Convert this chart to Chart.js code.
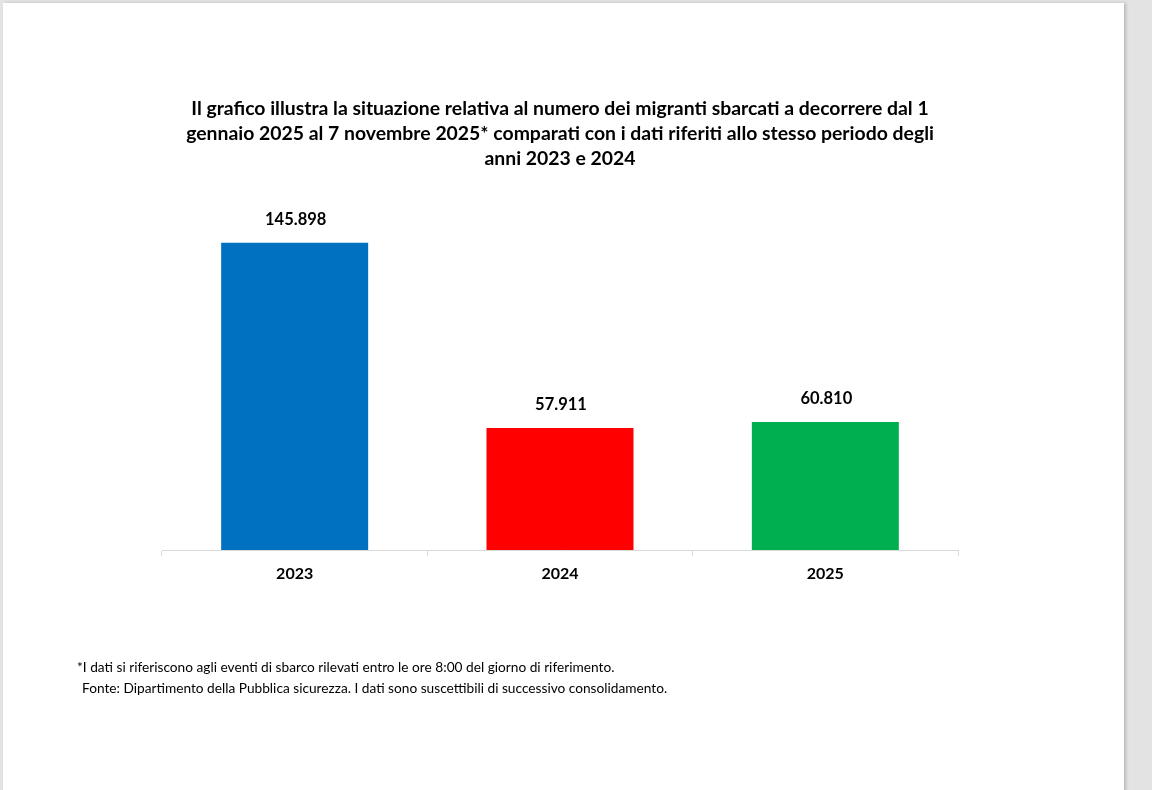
<!DOCTYPE html>
<html>
<head>
<meta charset="utf-8">
<script src="https://cdn.jsdelivr.net/npm/chart.js@4"></script>
<style>
  html, body { margin: 0; padding: 0; }
  body { width: 1152px; height: 790px; background: #e3e3e3; position: relative; overflow: hidden; font-family: Lato, "Open Sans", sans-serif; }
  .page { position: absolute; left: 3px; top: 3px; width: 1121px; height: 800px; background: #fff; box-shadow: 2px 0 3px rgba(0,0,0,0.18); }
  .chart-box { position: absolute; left: 0; top: 0; width: 1121px; height: 787px; }
  .note { position: absolute; font-size: 13.7px; line-height: 16px; color: #000; white-space: nowrap; }
</style>
</head>
<body>
<div class="page">
  <div class="chart-box"><canvas id="sbarchiChart"></canvas></div>
  <div class="note" style="left:74px; top:656px;">*I dati si riferiscono agli eventi di sbarco rilevati entro le ore 8:00 del giorno di riferimento.</div>
  <div class="note" style="left:79px; top:677px;">Fonte: Dipartimento della Pubblica sicurezza. I dati sono suscettibili di successivo consolidamento.</div>
</div>
<script>
const anni = ['2023', '2024', '2025'];
const migrantiSbarcati = [145898, 57911, 60810];
const coloriBarre = ['#0070C0', '#FF0000', '#00B050'];
const titolo = [
    'Il grafico illustra la situazione relativa al numero dei migranti sbarcati a decorrere dal 1',
    'gennaio 2025 al 7 novembre 2025* comparati con i dati riferiti allo stesso periodo degli',
    'anni 2023 e 2024'
];

function formatIt(n) {
    return String(n).replace(/\B(?=(\d{3})+(?!\d))/g, '.');
}

// value labels above each bar
const valueLabels = {
    id: 'valueLabels',
    afterDatasetsDraw(chart) {
        const ctx = chart.ctx;
        const meta = chart.getDatasetMeta(0);
        ctx.save();
        ctx.font = 'bold 16.5px Lato, "Open Sans", sans-serif';
        ctx.fillStyle = '#000';
        ctx.textAlign = 'center';
        ctx.textBaseline = 'middle';
        meta.data.forEach(function(bar, i) {
            ctx.fillText(formatIt(migrantiSbarcati[i]), bar.x + 1, bar.y - 23);
        });
        ctx.restore();
    }
};

document.addEventListener('DOMContentLoaded', function() {
    const ctx = document.getElementById('sbarchiChart').getContext('2d');
    new Chart(ctx, {
        type: 'bar',
        data: {
            labels: anni,
            datasets: [{
                data: migrantiSbarcati,
                backgroundColor: coloriBarre,
                borderWidth: 0,
                barPercentage: 0.554,
                categoryPercentage: 1
            }]
        },
        options: {
            responsive: true,
            maintainAspectRatio: false,
            animation: false,
            layout: {
                padding: { left: 159, right: 166, top: 0, bottom: 200 }
            },
            scales: {
                y: {
                    display: false,
                    min: 0,
                    max: 179000
                },
                x: {
                    afterFit: function(scale) { scale.height = 40; },
                    grid: {
                        offset: true,
                        drawOnChartArea: false,
                        drawTicks: true,
                        tickLength: 6,
                        color: '#d9d9d9'
                    },
                    border: { display: true, color: '#d9d9d9', width: 1 },
                    ticks: {
                        color: '#000',
                        padding: 8,
                        font: { family: 'Lato, "Open Sans", sans-serif', size: 16, weight: 'bold' }
                    }
                }
            },
            plugins: {
                legend: { display: false },
                tooltip: { enabled: false },
                title: {
                    display: true,
                    text: titolo,
                    color: '#000',
                    font: { family: 'Lato, "Open Sans", sans-serif', size: 19.4, weight: 'bold', lineHeight: 25 / 19.4 },
                    padding: { top: 93.5, bottom: 1.5 }
                }
            }
        },
        plugins: [valueLabels]
    });
});
</script>
</body>
</html>
